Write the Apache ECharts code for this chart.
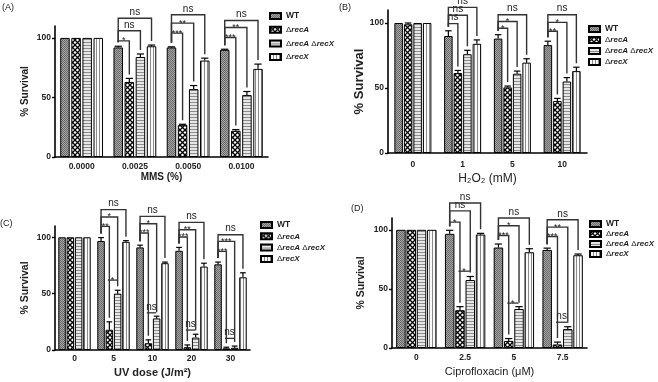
<!DOCTYPE html>
<html>
<head>
<meta charset="UTF-8">
<title>survival</title>
<script src="https://cdn.jsdelivr.net/npm/echarts@6/dist/echarts.min.js"></script>
</head>
<body style="margin:0;background:#fff">
<div id="chart" style="width:658px;height:382px"></div>
<script>
var strains = ['WT', 'ΔrecA', 'ΔrecA ΔrecX', 'ΔrecX'];
var yTicks = [0, 50, 100];

// (A) MMS
var mmsCats = ['0.0000', '0.0025', '0.0050', '0.0100'];
var mmsWT = [100, 92, 92, 90];
var mmsRecA = [100, 63, 27, 22];
var mmsRecAX = [100, 84, 57, 52];
var mmsRecX = [100, 93, 81, 74];
var mmsErrWT = [0, 1, 0.5, 0.5];
var mmsErrRecA = [0, 3, 0.5, 1];
var mmsErrRecAX = [0, 2.5, 3, 3];
var mmsErrRecX = [0, 1, 2, 4];
// [category, compared bar, bracket level, label]
var mmsSig = [[1, 1, 97.5, '*'], [1, 2, 106, 'ns'], [1, 3, 116.5, 'ns'],
              [2, 1, 104, '***'], [2, 2, 112.4, '**'], [2, 3, 119.4, 'ns'],
              [3, 1, 100.3, '***'], [3, 2, 108.7, '**'], [3, 3, 114.6, 'ns']];
var mmsPair = [];

// (B) H2O2
var h2o2Cats = ['0', '1', '5', '10'];
var h2o2WT = [100, 90, 88, 83];
var h2o2RecA = [99, 61.5, 50.5, 40];
var h2o2RecAX = [100, 76, 61, 55];
var h2o2RecX = [100, 84, 69.5, 63];
var h2o2ErrWT = [0, 4, 3, 3];
var h2o2ErrRecA = [1, 2, 1, 2];
var h2o2ErrRecAX = [0, 3, 2, 3];
var h2o2ErrRecX = [0, 3, 3, 3];
var h2o2Sig = [[1, 1, 99.5, 'ns'], [1, 2, 106, 'ns'], [1, 3, 112, 'ns'],
               [2, 1, 96, '*'], [2, 2, 101.2, '*'], [2, 3, 106.4, 'ns'],
               [3, 1, 93.6, '**'], [3, 2, 100.5, '*'], [3, 3, 106.4, 'ns']];
var h2o2Pair = [];

// (C) UV
var uvCats = ['0', '5', '10', '20', '30'];
var uvWT = [100, 96.7, 91, 88, 76];
var uvRecA = [100, 18, 6, 2.5, 1.5];
var uvRecAX = [100, 50, 28, 11, 2];
var uvRecX = [100, 96, 77, 74, 64.5];
var uvErrWT = [0, 3, 2, 3, 2];
var uvErrRecA = [0, 7, 3, 2, 1];
var uvErrRecAX = [0, 3, 2, 3, 1.5];
var uvErrRecX = [0, 1, 1, 3, 4];
var uvSig = [[1, 1, 109.7, '**'], [1, 2, 118, '*'], [1, 3, 124.5, 'ns'],
             [2, 1, 103.8, '***'], [2, 2, 112, '*'], [2, 3, 118.5, 'ns'],
             [3, 1, 100.3, '***'], [3, 2, 106.7, '**'], [3, 3, 113.2, 'ns'],
             [4, 1, 87.5, '***'], [4, 2, 96.4, '***'], [4, 3, 102.3, 'ns']];
// recA vs recA recX: [category, level, label]
var uvPair = [[1, 62, '*'], [2, 33, 'ns'], [3, 17.7, 'ns'], [4, 10.3, 'ns']];

// (D) Ciprofloxacin
var cipCats = ['0', '2.5', '5', '7.5'];
var cipWT = [100, 96.6, 85, 83];
var cipRecA = [100, 32, 6, 3];
var cipRecAX = [100, 57.5, 33, 16];
var cipRecX = [100, 96, 81, 78.5];
var cipErrWT = [0, 3, 3, 1.5];
var cipErrRecA = [0, 3, 2, 2];
var cipErrRecAX = [0, 3, 2, 2];
var cipErrRecX = [0, 1, 3, 1];
var cipSig = [[1, 1, 106.5, '*'], [1, 2, 116, 'ns'], [1, 3, 122.7, 'ns'],
              [2, 1, 95.2, '***'], [2, 2, 103.4, '*'], [2, 3, 110, 'ns'],
              [3, 1, 94.3, '***'], [3, 2, 102.3, '**'], [3, 3, 108.5, 'ns']];
var cipPair = [[1, 65, '*'], [2, 38, '*'], [3, 21.8, 'ns']];

// bar fill patterns
function makePattern(kind) {
  var c = document.createElement('canvas');
  var g = c.getContext('2d');
  if (kind === 0) {
    c.width = 2; c.height = 2;
    g.fillStyle = '#a4a4a4'; g.fillRect(0, 0, 2, 2);
    g.fillStyle = '#6a6a6a'; g.fillRect(0, 0, 1, 1); g.fillRect(1, 1, 1, 1);
  } else if (kind === 1) {
    c.width = 5; c.height = 5;
    g.fillStyle = '#fff'; g.fillRect(0, 0, 5, 5);
    g.strokeStyle = '#000'; g.lineWidth = 1.3;
    g.beginPath();
    g.moveTo(0, 0); g.lineTo(5, 5);
    g.moveTo(5, 0); g.lineTo(0, 5);
    g.stroke();
  } else if (kind === 2) {
    c.width = 1; c.height = 3;
    g.fillStyle = '#e6e6e6'; g.fillRect(0, 0, 1, 3);
    g.fillStyle = '#8c8c8c'; g.fillRect(0, 0, 1, 1);
  } else {
    c.width = 3; c.height = 1;
    g.fillStyle = '#fafafa'; g.fillRect(0, 0, 3, 1);
    g.fillStyle = '#8a8a8a'; g.fillRect(0, 0, 1, 1);
  }
  return {image: c, repeat: 'repeat'};
}
var fills = [makePattern(0), makePattern(1), makePattern(2), makePattern(3)];

var panels = [
  {tag: '(A)', tagPos: [2, 3], cats: mmsCats, vals: [mmsWT, mmsRecA, mmsRecAX, mmsRecX],
   errs: [mmsErrWT, mmsErrRecA, mmsErrRecAX, mmsErrRecX], sig: mmsSig, pair: mmsPair,
   xName: 'MMS (%)', grid: {left: 55, top: 26, width: 213, height: 131}, bw: 9.5, gap: 1.6,
   labMargin: 5, xNameGap: 13, xNameSize: 10, xNameBold: true, yNameGap: 25, yNameSize: 10,
   legend: [269, 11, 3.7]},
  {tag: '(B)', tagPos: [339, 3], cats: h2o2Cats, vals: [h2o2WT, h2o2RecA, h2o2RecAX, h2o2RecX],
   errs: [h2o2ErrWT, h2o2ErrRecA, h2o2ErrRecAX, h2o2ErrRecX], sig: h2o2Sig, pair: h2o2Pair,
   xName: 'H₂O₂ (mM)', grid: {left: 388, top: 10, width: 199, height: 143}, bw: 8.5, gap: 1,
   labMargin: 7, xNameGap: 20, xNameSize: 12, xNameBold: false, yNameGap: 20, yNameSize: 13,
   legend: [588, 24, 1]},
  {tag: '(C)', tagPos: [0, 219], cats: uvCats, vals: [uvWT, uvRecA, uvRecAX, uvRecX],
   errs: [uvErrWT, uvErrRecA, uvErrRecAX, uvErrRecX], sig: uvSig, pair: uvPair,
   xName: 'UV dose (J/m²)', grid: {left: 55, top: 226, width: 195, height: 124}, bw: 7.5, gap: 0.8,
   labMargin: 4, xNameGap: 17, xNameSize: 11, xNameBold: true, yNameGap: 24, yNameSize: 10.5,
   legend: [260, 220, 1.3]},
  {tag: '(D)', tagPos: [351, 204], cats: cipCats, vals: [cipWT, cipRecA, cipRecAX, cipRecX],
   errs: [cipErrWT, cipErrRecA, cipErrRecAX, cipErrRecX], sig: cipSig, pair: cipPair,
   xName: 'Ciprofloxacin (μM)', grid: {left: 392, top: 218, width: 195, height: 130}, bw: 9.5, gap: 0.8,
   labMargin: 5, xNameGap: 18, xNameSize: 11, xNameBold: false, yNameGap: 25, yNameSize: 10.5,
   legend: [589, 219, 0]}
];

function legendFmt(name) {
  if (name === 'WT') return '{b|WT}';
  return name.split(' ').map(function (w) { return '{d|Δ}{i|' + w.slice(1) + '}'; }).join(' ');
}

function errRender(p) {
  var step = p.bw + p.gap;
  return function (params, api) {
    var c = api.value(0), v = api.value(1), e = api.value(2), k = api.value(3);
    if (!e) return;
    var a = api.coord([c, v]), b = api.coord([c, v + e]);
    var x = a[0] + (k - 1.5) * step, h = p.bw * 0.38;
    return {type: 'group', children: [
      {type: 'line', shape: {x1: x, y1: a[1], x2: x, y2: b[1]}, style: {stroke: '#000', lineWidth: 1.2}},
      {type: 'line', shape: {x1: x - h, y1: b[1], x2: x + h, y2: b[1]}, style: {stroke: '#000', lineWidth: 1.2}}
    ]};
  };
}

function labelEl(x, y, txt) {
  var star = txt.charAt(0) === '*';
  return {type: 'text', x: x, y: y + (star ? 4.5 : -1),
    style: {text: txt, fontSize: star ? 9 : 10, fill: '#222', align: 'center', verticalAlign: 'bottom',
            fontFamily: 'Liberation Sans'}};
}

function sigRender(p) {
  var step = p.bw + p.gap;
  return function (params, api) {
    var s = p.sig[params.dataIndex];
    var c = s[0], t = s[1];
    var base = api.coord([c, s[2]]);
    var xl = base[0] - 1.5 * step, xr = base[0] + (t - 1.5) * step;
    var yl = api.coord([c, p.vals[0][c] + p.errs[0][c]])[1] - 4;
    var yr = api.coord([c, p.vals[t][c] + p.errs[t][c]])[1] - 4;
    return {type: 'group', children: [
      {type: 'polyline', shape: {points: [[xl, yl], [xl, base[1]], [xr, base[1]], [xr, yr]]},
       style: {stroke: '#333', lineWidth: 1.4, fill: null}},
      labelEl((xl + xr) / 2, base[1], s[3])
    ]};
  };
}

function pairRender(p) {
  var step = p.bw + p.gap;
  return function (params, api) {
    var s = p.pair[params.dataIndex];
    var base = api.coord([s[0], s[1]]);
    var x1 = base[0] - 0.5 * step - 1.5, x2 = base[0] + 0.5 * step - 0.5;
    return {type: 'group', children: [
      {type: 'line', shape: {x1: x1, y1: base[1], x2: x2, y2: base[1]}, style: {stroke: '#333', lineWidth: 1.3}},
      labelEl((x1 + x2) / 2, base[1], s[2])
    ]};
  };
}

var option = {
  animation: false,
  backgroundColor: '#fff',
  textStyle: {fontFamily: 'Liberation Sans'},
  title: [], grid: [], xAxis: [], yAxis: [], legend: [], series: []
};

panels.forEach(function (p, i) {
  option.title.push({text: p.tag, left: p.tagPos[0], top: p.tagPos[1], padding: 0,
    textStyle: {fontSize: 9, fontWeight: 'normal', color: '#222'}});
  option.grid.push(p.grid);
  option.xAxis.push({
    type: 'category', gridIndex: i, data: p.cats,
    name: p.xName, nameLocation: 'middle', nameGap: p.xNameGap,
    nameTextStyle: {fontSize: p.xNameSize, fontWeight: p.xNameBold ? 'bold' : 'normal', color: '#222'},
    axisLine: {lineStyle: {color: '#000', width: 1.6}},
    axisTick: {show: false},
    axisLabel: {fontSize: 8.5, fontWeight: 'bold', color: '#222', margin: p.labMargin}
  });
  option.yAxis.push({
    type: 'value', gridIndex: i, min: 0, max: 110,
    name: '% Survival', nameLocation: 'middle', nameGap: p.yNameGap,
    nameTextStyle: {fontSize: p.yNameSize, fontWeight: 'bold', color: '#222'},
    axisLine: {show: true, lineStyle: {color: '#000', width: 1.6}},
    axisTick: {show: true, length: 3, customValues: yTicks, lineStyle: {color: '#000', width: 1.4}},
    axisLabel: {fontSize: 8.5, fontWeight: 'bold', color: '#222', margin: 4, customValues: yTicks},
    splitLine: {show: false}
  });
  option.legend.push({
    orient: 'vertical', left: p.legend[0], top: p.legend[1], itemGap: p.legend[2], padding: 0,
    itemWidth: 11, itemHeight: 6, icon: 'rect', selectedMode: false, data: strains,
    formatter: legendFmt,
    textStyle: {fontSize: 8, color: '#222', lineHeight: 10,
      rich: {b: {fontSize: 8.5, fontWeight: 'bold', lineHeight: 10},
             d: {fontSize: 8, lineHeight: 10},
             i: {fontSize: 8, fontStyle: 'italic', fontWeight: 'bold', lineHeight: 10}}}
  });
  strains.forEach(function (name, k) {
    option.series.push({
      name: name, type: 'bar', xAxisIndex: i, yAxisIndex: i, data: p.vals[k],
      barWidth: p.bw, barGap: (p.gap / p.bw * 100) + '%',
      itemStyle: {color: fills[k], borderColor: '#000', borderWidth: 1}
    });
  });
  var errData = [];
  p.vals.forEach(function (arr, k) {
    arr.forEach(function (v, c) { errData.push([c, v, p.errs[k][c], k]); });
  });
  option.series.push({type: 'custom', xAxisIndex: i, yAxisIndex: i, renderItem: errRender(p),
    data: errData, z: 5, silent: true});
  option.series.push({type: 'custom', xAxisIndex: i, yAxisIndex: i, renderItem: sigRender(p),
    data: p.sig.map(function (s) { return [s[0], s[2]]; }), z: 6, silent: true, clip: false});
  if (p.pair.length) {
    option.series.push({type: 'custom', xAxisIndex: i, yAxisIndex: i, renderItem: pairRender(p),
      data: p.pair.map(function (s) { return [s[0], s[1]]; }), z: 6, silent: true, clip: false});
  }
});

var chart = echarts.init(document.getElementById('chart'));
chart.setOption(option);
</script>
</body>
</html>
